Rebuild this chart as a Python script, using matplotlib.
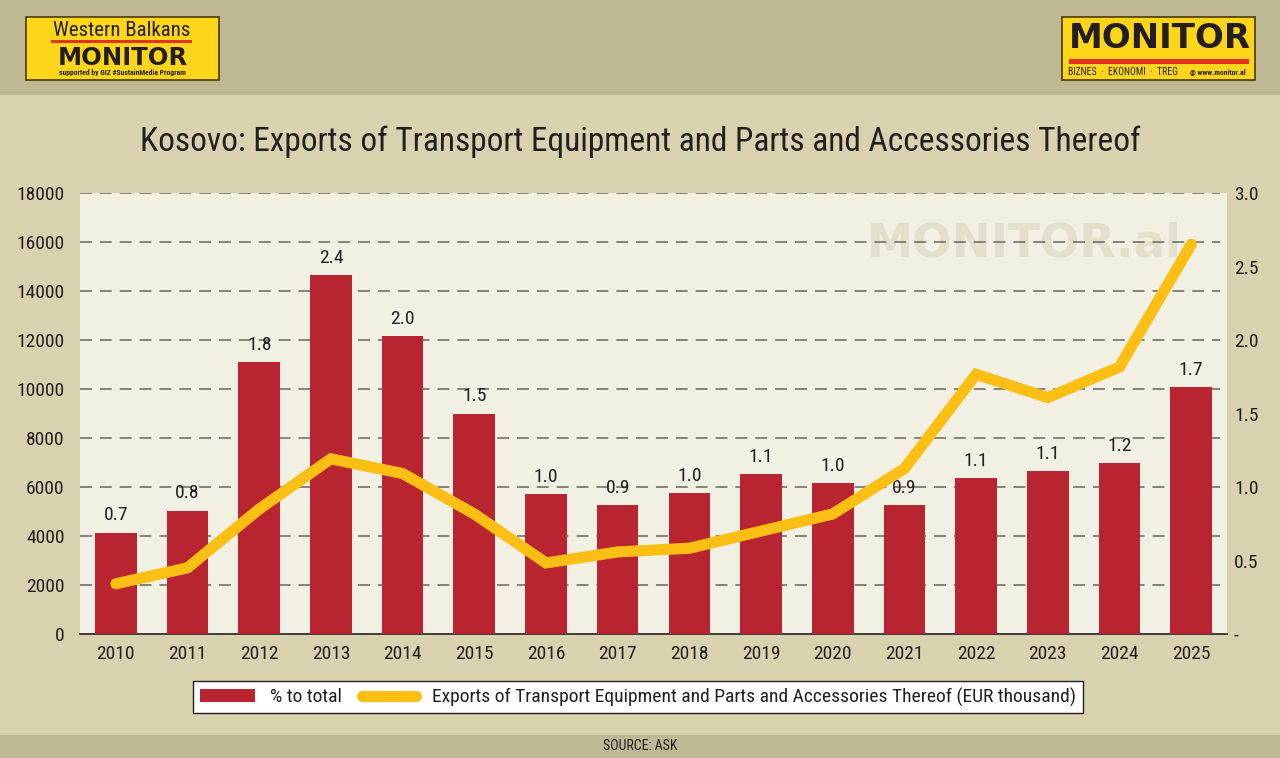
import matplotlib.pyplot as plt
from matplotlib.patches import Rectangle
from matplotlib.lines import Line2D

plt.rcParams['font.family'] = ['Roboto Condensed', 'DejaVu Sans']

# Data
years = ['2010', '2011', '2012', '2013', '2014', '2015', '2016', '2017',
         '2018', '2019', '2020', '2021', '2022', '2023', '2024', '2025']
share = [0.69, 0.84, 1.85, 2.44, 2.03, 1.50, 0.95, 0.88,
         0.96, 1.09, 1.03, 0.88, 1.06, 1.11, 1.16, 1.68]
share_labels = ['0.7', '0.8', '1.8', '2.4', '2.0', '1.5', '1.0', '0.9',
                '1.0', '1.1', '1.0', '0.9', '1.1', '1.1', '1.2', '1.7']
exports = [2050, 2700, 5100, 7150, 6550, 4900, 2900, 3350,
           3500, 4200, 4900, 6750, 10600, 9650, 10900, 15900]

left_ticks = [0, 2000, 4000, 6000, 8000, 10000, 12000, 14000, 16000, 18000]
right_ticks = [0, 0.5, 1.0, 1.5, 2.0, 2.5, 3.0]
right_labels = ['-', '0.5', '1.0', '1.5', '2.0', '2.5', '3.0']

BAR = '#b82531'
LINE = '#fbbf14'
HEADER = '#bfb894'
BG = '#d9d2ae'
PANEL = '#f2efe3'
TXT = '#231f20'
LOGO = '#ffd51a'
RED = '#e5302a'

W, H = 1280, 758
fig = plt.figure(figsize=(W / 100, H / 100), dpi=100)
fig.patch.set_facecolor(BG)

def fx(px):
    return px / W

def fy(py):
    return 1 - py / H

def box(x0, y0, x1, y1, **kw):
    # rectangle given in pixel coords from the top-left corner
    fig.patches.append(Rectangle((fx(x0), fy(y1)), fx(x1 - x0), (y1 - y0) / H,
                                 transform=fig.transFigure, **kw))

# header and footer bands
box(0, 0, W, 95, facecolor=HEADER, edgecolor='none', zorder=0)
box(0, 735, W, H, facecolor=HEADER, edgecolor='none', zorder=0)
fig.text(0.5, fy(746), 'SOURCE: ASK', ha='center', va='center', fontsize=10, color=TXT)

# left logo
box(26, 17, 219, 80, facecolor=LOGO, edgecolor='#4a3a00', lw=1.2, zorder=1)
fig.text(fx(122), fy(31), 'Western Balkans', ha='center', va='center', fontsize=15,
         color=TXT, zorder=2)
box(51, 40, 192, 43, facecolor=RED, edgecolor='none', zorder=2)
fig.text(fx(123), fy(58), 'MONITOR', ha='center', va='center', fontsize=17.5,
         family='DejaVu Sans', fontweight='bold', color=TXT, zorder=2)
fig.text(fx(122), fy(73), 'supported by GIZ #SustainMedia Program', ha='center',
         va='center', fontsize=5.5, fontweight='bold', color=TXT, zorder=2)

# right logo
box(1062, 17, 1255, 80, facecolor=LOGO, edgecolor='#4a3a00', lw=1.2, zorder=1)
fig.text(fx(1160), fy(39), 'MONITOR', ha='center', va='center', fontsize=24.5,
         family='DejaVu Sans', fontweight='bold', color=TXT, zorder=2)
box(1069, 59, 1249, 64, facecolor=RED, edgecolor='none', zorder=2)
fig.text(fx(1068), fy(72), 'BIZNES  ·  EKONOMI  ·  TREG', ha='left', va='center',
         fontsize=7, color=TXT, zorder=2)
fig.text(fx(1246), fy(72), '@ www.monitor.al', ha='right', va='center',
         fontsize=5.5, fontweight='bold', color=TXT, zorder=2)

# title
fig.text(0.5, fy(142), 'Kosovo: Exports of Transport Equipment and Parts and Accessories Thereof',
         ha='center', va='center', fontsize=24, color=TXT)

# axes
ax = fig.add_axes([fx(80), fy(634), fx(1147), 441 / H])
ax.set_facecolor(PANEL)
ax2 = ax.twinx()

x = list(range(len(years)))

ax2.bar(x, share, width=0.58, color=BAR, zorder=2)
for xi, v, lab in zip(x, share, share_labels):
    ax2.text(xi, v + 0.055, lab, ha='center', va='bottom', fontsize=14, color=TXT)
ax2.set_ylim(0, 3.0)
ax2.set_yticks(right_ticks)
ax2.set_yticklabels(right_labels)

ax.set_ylim(0, 18000)
ax.set_yticks(left_ticks)
ax.set_xlim(-0.5, len(years) - 0.5)
ax.set_xticks(x)
ax.set_xticklabels(years)
for yv in left_ticks[1:]:
    ax.plot([-0.5, 15.4], [yv, yv], color='#67665f', lw=1.1, dashes=(7.8, 5.2), zorder=1)

# line drawn on top of bars
ax3 = ax.twinx()
ax3.set_ylim(0, 18000)
ax3.axis('off')
ax3.plot(x, exports, color=LINE, lw=8, solid_capstyle='round',
         solid_joinstyle='miter', zorder=3)

# watermark
ax.text(0.823, 0.885, 'MONITOR.al', transform=ax.transAxes, ha='center', va='center',
        fontsize=33.5, family='DejaVu Sans', fontweight='bold', color='#e4dfcb',
        zorder=0.5)

for a in (ax, ax2):
    for s in a.spines.values():
        s.set_visible(False)
    a.tick_params(length=0, labelsize=14, colors=TXT)
ax.spines['bottom'].set_visible(True)
ax.spines['bottom'].set_color(TXT)
ax.spines['bottom'].set_linewidth(1.2)
ax.tick_params(axis='y', pad=11)
ax.tick_params(axis='x', pad=8)
ax2.tick_params(axis='y', pad=5)
ax.set_zorder(1)
ax2.set_zorder(2)
ax3.set_zorder(3)
ax2.patch.set_visible(False)
ax3.patch.set_visible(False)

# legend
handles = [Rectangle((0, 0), 1, 1, facecolor=BAR, edgecolor='none'),
           Line2D([0], [0], color=LINE, lw=8, solid_capstyle='round')]
leg = fig.legend(handles, ['% to total',
                           'Exports of Transport Equipment and Parts and Accessories Thereof (EUR thousand)'],
                 loc='center', bbox_to_anchor=(fx(638), fy(697)), ncol=2, frameon=True,
                 fancybox=False, fontsize=14, handlelength=2.8, handleheight=0.6,
                 handletextpad=0.8, columnspacing=1.0, borderpad=0.35, framealpha=1)
leg.get_frame().set_edgecolor(TXT)
leg.get_frame().set_linewidth(1.0)
leg.get_frame().set_facecolor('white')
for t in leg.get_texts():
    t.set_color(TXT)

fig.savefig('out.png', dpi=100, facecolor=fig.get_facecolor())
